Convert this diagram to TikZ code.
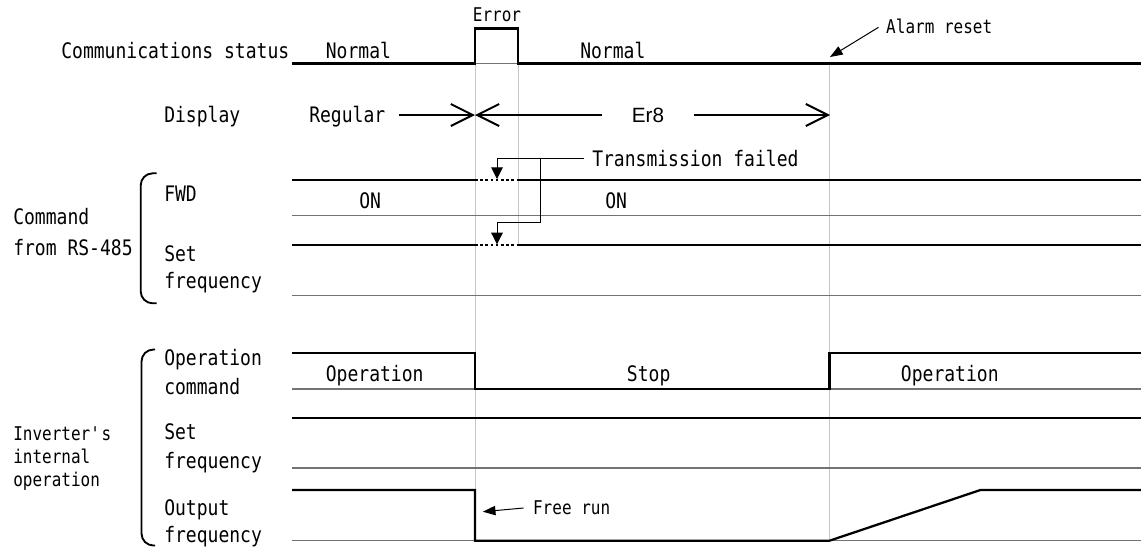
\documentclass[tikz,border=0pt]{standalone}
\usepackage{fontspec}
\usetikzlibrary{arrows.meta}
\newfontfamily\gfont[FakeStretch=0.845]{DejaVu Sans Mono}
\newfontfamily\afont{Liberation Sans}

\begin{document}
\begin{tikzpicture}[x=0.75pt,y=-0.75pt,
    every node/.style={anchor=base west,inner sep=0pt},
    lab/.style={font=\gfont\fontsize{16}{19}\selectfont},
    note/.style={font=\gfont\fontsize{14.2}{17}\selectfont},
    sig/.style={line width=1.7pt},
    zero/.style={draw=black!55,line width=0.8pt},
    guide/.style={draw=black!22,line width=0.6pt},
    lost/.style={line width=1.7pt,dash pattern=on 1.9pt off 2pt},
    brace/.style={line width=1.4pt,rounded corners=9pt},
    call/.style={line width=0.75pt,-{Triangle[length=8.8pt,width=8.8pt]}},
    tag/.style={line width=0.75pt,-{Triangle[length=9.5pt,width=7pt]}},
    span/.style={line width=1.5pt,-{Straight Barb[length=16.5pt,width=16.5pt]}}]
  \useasboundingbox (0,0) rectangle (1141,547);

  \draw[guide] (475,63.5) -- (475,540.7);
  \draw[guide] (518,63.5) -- (518,245.3);
  \draw[guide] (829.5,63.5) -- (829.5,540.7);
  \foreach \y in {215.7,295.7,389,468,540.7}
    \draw[zero] (292,\y) -- (1141,\y);
  \draw[zero] (475,63.5) -- (518,63.5);

  \draw[sig] (292,63.5) -- (475,63.5) |- (518,28.5) -- (518,63.5) -- (1141,63.5);
  \draw[sig] (292,180) -- (475,180) (518,180) -- (1141,180);
  \draw[lost] (475,180) -- (518,180);
  \draw[sig] (292,245.3) -- (475,245.3) (518,245.3) -- (1141,245.3);
  \draw[lost] (475,245.3) -- (518,245.3);
  \draw[sig] (292,352.7) -| (475,389) -| (829.5,353.3) -- (1141,353.3);
  \draw[sig] (292,418.3) -- (1141,418.3);
  \draw[sig] (292,490) -| (475,540.7) -- (829.5,540.7) -- (980.4,490) -- (1141,490);

  \draw[brace] (156.5,173.3) -- (140.7,173.3) -- (140.7,303.3) -- (156.5,303.3);
  \draw[brace] (155,349.5) -- (141.5,349.5) -- (141.5,545.5) -- (155,545.5);

  \node[lab,anchor=base east] (cs) at (289.5,58.3) {Communications status};
  \node[lab] (n1) at (325.6,58.3) {Normal};
  \node[lab] (n2) at (580,58.3) {Normal};
  \node[note,anchor=base] (err) at (497,21.7) {Error};
  \node[note,inner xsep=5.6pt,text height=9pt,text depth=0pt] (ar) at (878.5,33.3) {Alarm reset};
  \coordinate (rst) at (830,57);
  \draw[tag] (ar.west) -- (rst);

  \node[lab] (dsp) at (164,122) {Display};
  \node[lab,inner xsep=9.75pt,text height=10.5pt,text depth=0pt] (reg) at (296,122) {Regular};
  \node[font=\afont\fontsize{15.5}{18}\selectfont,anchor=base,inner xsep=22.5pt,text height=10.5pt,text depth=0pt] (er) at (648,122) {Er8};
  \coordinate (trip) at (475,115);
  \coordinate (clr) at (830,115);
  \draw[span] (reg.east) -- (trip);
  \draw[span] (er.west) -- (trip);
  \draw[span] (er.east) -- (clr);

  \node[lab,inner xsep=6pt,text height=12.6pt,text depth=0pt] (tf) at (584,166.7) {Transmission failed};
  \coordinate (fk) at (540,158.3);
  \coordinate (h1) at (497,179);
  \coordinate (h2) at (497,244.3);
  \draw[call] (tf.west) -| (h1);
  \draw[call] (fk) |- (497,222.7) -- (h2);

  \node[lab] (c1) at (13,224.5) {Command};
  \node[lab] (c2) at (13,255) {from RS-485};
  \node[lab] (fwd) at (164,201.7) {FWD};
  \node[lab] (on1) at (359,208) {ON};
  \node[lab] (on2) at (605,208) {ON};
  \node[lab] (cs1) at (164,261.7) {Set};
  \node[lab] (cs2) at (164,288.5) {frequency};

  \node[note] (i1) at (13,440.5) {Inverter\textquotesingle s};
  \node[note] (i2) at (13,463.5) {internal};
  \node[note] (i3) at (13,486.5) {operation};
  \node[lab] (oc1) at (164,365) {Operation};
  \node[lab] (oc2) at (164,394) {command};
  \node[lab] (op1) at (325.6,381) {Operation};
  \node[lab] (stp) at (626.7,381) {Stop};
  \node[lab] (op2) at (900.7,381) {Operation};
  \node[lab] (is1) at (164,439.3) {Set};
  \node[lab] (is2) at (164,468) {frequency};
  \node[lab] (of1) at (164,515.7) {Output};
  \node[lab] (of2) at (164,542) {frequency};
  \node[note,inner xsep=7pt,text height=9pt,text depth=0pt] (fr) at (523.5,514) {Free run};
  \coordinate (cst) at (482.8,511.7);
  \draw[tag] (fr.west) -- (cst);
\end{tikzpicture}
\end{document}
